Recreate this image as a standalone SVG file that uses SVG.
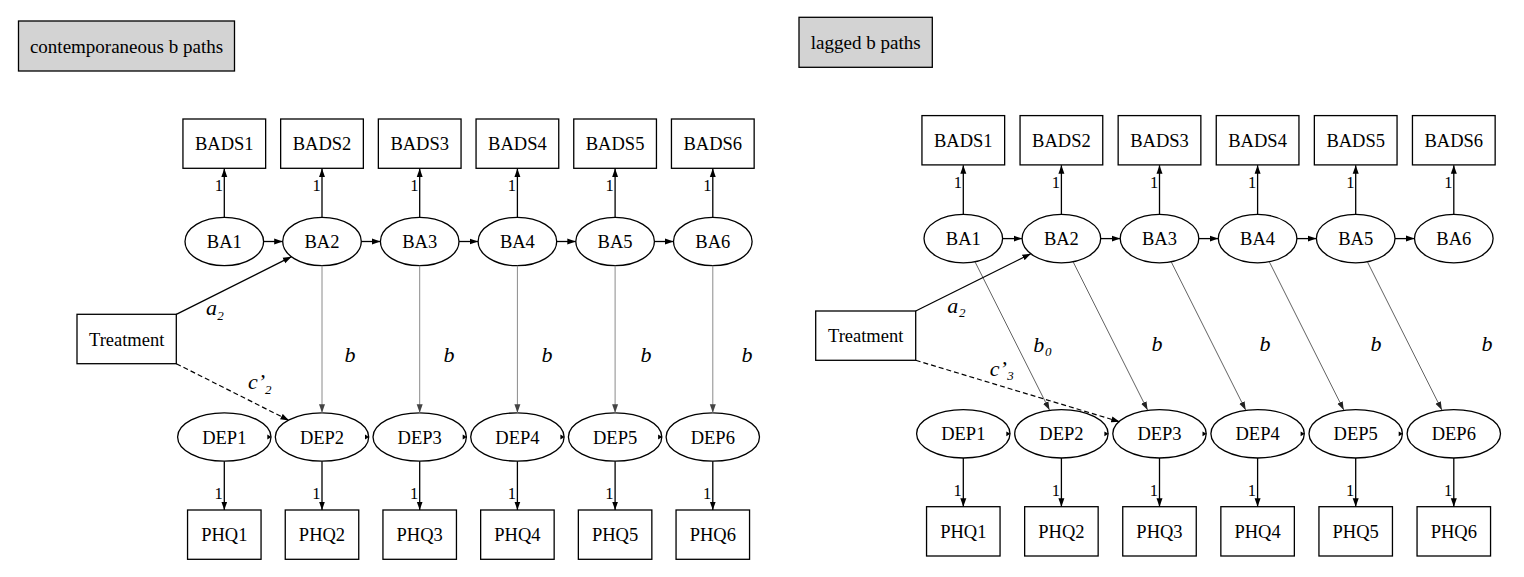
<svg xmlns="http://www.w3.org/2000/svg" width="1524" height="577" viewBox="0 0 1524 577" font-family="'Liberation Serif', 'Times New Roman', Times, serif">
<style>
text, tspan{font-family:'Liberation Serif', 'Times New Roman', Times, serif}
text{fill:#000}
.n{font-size:18.5px;text-anchor:middle}
.t{font-size:19px;text-anchor:middle}
.one{font-size:16.5px;text-anchor:end}
.it{font-size:22px;font-style:italic}
.sub{font-size:13px;font-style:italic}
.box{fill:#fff;stroke:#000;stroke-width:1.3}
.title{fill:#d3d3d3;stroke:#000;stroke-width:1.3}
.ell{fill:#fff;stroke:#000;stroke-width:1.3}
.e{fill:none;stroke:#000;stroke-width:1.3;marker-end:url(#ah)}
.d{fill:none;stroke:#000;stroke-width:1.2;stroke-dasharray:5,3;marker-end:url(#ah)}
.g{fill:none;stroke:#8a8a8a;stroke-width:1;marker-end:url(#ahg)}
.l{fill:none;stroke:#3a3a3a;stroke-width:0.8;marker-end:url(#ahl)}
.s{fill:#000}
</style>
<defs>
<marker id="ah" markerUnits="userSpaceOnUse" markerWidth="9" markerHeight="7" refX="8.5" refY="3" orient="auto" viewBox="0 0 9 6"><path d="M0,0 L8.5,3 L0,6 z" fill="#000"/></marker>
<marker id="ahg" markerUnits="userSpaceOnUse" markerWidth="9" markerHeight="7" refX="8.5" refY="3" orient="auto" viewBox="0 0 9 6"><path d="M0,0 L8.5,3 L0,6 z" fill="#444"/></marker>
<marker id="ahl" markerUnits="userSpaceOnUse" markerWidth="9" markerHeight="7" refX="8.5" refY="3" orient="auto" viewBox="0 0 9 6"><path d="M0,0 L8.5,3 L0,6 z" fill="#222"/></marker>
</defs>

<!-- LEFT PANEL -->
<g id="title-left"><rect class="title" x="18.5" y="21" width="216" height="50"/><text class="t" x="126.5" y="52.5">contemporaneous b paths</text></g>

<g id="L-BADS1"><rect class="box" x="182.95" y="119" width="82.7" height="49.3"/><text class="n" x="224.3" y="150.2">BADS1</text></g>
<g id="L-BADS2"><rect class="box" x="280.65" y="119" width="82.7" height="49.3"/><text class="n" x="322" y="150.2">BADS2</text></g>
<g id="L-BADS3"><rect class="box" x="378.35" y="119" width="82.7" height="49.3"/><text class="n" x="419.7" y="150.2">BADS3</text></g>
<g id="L-BADS4"><rect class="box" x="476.05" y="119" width="82.7" height="49.3"/><text class="n" x="517.4" y="150.2">BADS4</text></g>
<g id="L-BADS5"><rect class="box" x="573.75" y="119" width="82.7" height="49.3"/><text class="n" x="615.1" y="150.2">BADS5</text></g>
<g id="L-BADS6"><rect class="box" x="671.45" y="119" width="82.7" height="49.3"/><text class="n" x="712.8" y="150.2">BADS6</text></g>

<g id="L-BA1"><ellipse class="ell" cx="224.3" cy="241.5" rx="39.3" ry="24.2"/><text class="n" x="224.3" y="248">BA1</text></g>
<g id="L-BA2"><ellipse class="ell" cx="322" cy="241.5" rx="39.3" ry="24.2"/><text class="n" x="322" y="248">BA2</text></g>
<g id="L-BA3"><ellipse class="ell" cx="419.7" cy="241.5" rx="39.3" ry="24.2"/><text class="n" x="419.7" y="248">BA3</text></g>
<g id="L-BA4"><ellipse class="ell" cx="517.4" cy="241.5" rx="39.3" ry="24.2"/><text class="n" x="517.4" y="248">BA4</text></g>
<g id="L-BA5"><ellipse class="ell" cx="615.1" cy="241.5" rx="39.3" ry="24.2"/><text class="n" x="615.1" y="248">BA5</text></g>
<g id="L-BA6"><ellipse class="ell" cx="712.8" cy="241.5" rx="39.3" ry="24.2"/><text class="n" x="712.8" y="248">BA6</text></g>

<g id="L-Treatment"><rect class="box" x="77" y="314.3" width="99.3" height="49.4"/><text class="n" x="126.7" y="345.5">Treatment</text></g>

<g id="L-DEP1"><ellipse class="ell" cx="224.3" cy="437" rx="46.7" ry="24.2"/><text class="n" x="224.3" y="443.5">DEP1</text></g>
<g id="L-DEP2"><ellipse class="ell" cx="322" cy="437" rx="46.7" ry="24.2"/><text class="n" x="322" y="443.5">DEP2</text></g>
<g id="L-DEP3"><ellipse class="ell" cx="419.7" cy="437" rx="46.7" ry="24.2"/><text class="n" x="419.7" y="443.5">DEP3</text></g>
<g id="L-DEP4"><ellipse class="ell" cx="517.4" cy="437" rx="46.7" ry="24.2"/><text class="n" x="517.4" y="443.5">DEP4</text></g>
<g id="L-DEP5"><ellipse class="ell" cx="615.1" cy="437" rx="46.7" ry="24.2"/><text class="n" x="615.1" y="443.5">DEP5</text></g>
<g id="L-DEP6"><ellipse class="ell" cx="712.8" cy="437" rx="46.7" ry="24.2"/><text class="n" x="712.8" y="443.5">DEP6</text></g>

<g id="L-PHQ1"><rect class="box" x="187.55" y="510" width="73.5" height="49.3"/><text class="n" x="224.3" y="541.2">PHQ1</text></g>
<g id="L-PHQ2"><rect class="box" x="285.25" y="510" width="73.5" height="49.3"/><text class="n" x="322" y="541.2">PHQ2</text></g>
<g id="L-PHQ3"><rect class="box" x="382.95" y="510" width="73.5" height="49.3"/><text class="n" x="419.7" y="541.2">PHQ3</text></g>
<g id="L-PHQ4"><rect class="box" x="480.65" y="510" width="73.5" height="49.3"/><text class="n" x="517.4" y="541.2">PHQ4</text></g>
<g id="L-PHQ5"><rect class="box" x="578.35" y="510" width="73.5" height="49.3"/><text class="n" x="615.1" y="541.2">PHQ5</text></g>
<g id="L-PHQ6"><rect class="box" x="676.05" y="510" width="73.5" height="49.3"/><text class="n" x="712.8" y="541.2">PHQ6</text></g>

<g id="L-connectors">
<path class="e" d="M224.3 217.3V168.6"/><path class="e" d="M322 217.3V168.6"/><path class="e" d="M419.7 217.3V168.6"/><path class="e" d="M517.4 217.3V168.6"/><path class="e" d="M615.1 217.3V168.6"/><path class="e" d="M712.8 217.3V168.6"/>
<text class="one" x="223" y="191">1</text><text class="one" x="320.7" y="191">1</text><text class="one" x="418.4" y="191">1</text><text class="one" x="516.1" y="191">1</text><text class="one" x="613.8" y="191">1</text><text class="one" x="711.5" y="191">1</text>
<path class="e" d="M263.6 241.5H282.7"/><path class="e" d="M361.3 241.5H380.4"/><path class="e" d="M459 241.5H478.1"/><path class="e" d="M556.7 241.5H575.8"/><path class="e" d="M654.4 241.5H673.5"/>
<path class="g" d="M322 265.7V412.8"/><path class="g" d="M419.7 265.7V412.8"/><path class="g" d="M517.4 265.7V412.8"/><path class="g" d="M615.1 265.7V412.8"/><path class="g" d="M712.8 265.7V412.8"/>
<text class="it" x="350" y="362" text-anchor="middle">b</text><text class="it" x="449" y="362" text-anchor="middle">b</text><text class="it" x="547" y="362" text-anchor="middle">b</text><text class="it" x="646" y="362" text-anchor="middle">b</text><text class="it" x="747" y="362" text-anchor="middle">b</text>
<path class="e" d="M176.3 314.3L291.5 256.7"/>
<text><tspan class="it" x="206" y="315">a</tspan><tspan class="sub" x="217.3" y="320">2</tspan></text>
<path class="d" d="M176.3 363.7L289 420.4"/>
<text><tspan class="it" x="248" y="389">c’</tspan><tspan class="sub" x="265" y="393.5">2</tspan></text>
<polygon class="s" points="267.3,434.6 271.5,437 267.3,439.4"/><polygon class="s" points="365,434.6 369.2,437 365,439.4"/><polygon class="s" points="462.7,434.6 466.9,437 462.7,439.4"/><polygon class="s" points="560.4,434.6 564.6,437 560.4,439.4"/><polygon class="s" points="658.1,434.6 662.3,437 658.1,439.4"/>
<path class="e" d="M224.3 461.2V510"/><path class="e" d="M322 461.2V510"/><path class="e" d="M419.7 461.2V510"/><path class="e" d="M517.4 461.2V510"/><path class="e" d="M615.1 461.2V510"/><path class="e" d="M712.8 461.2V510"/>
<text class="one" x="222.8" y="499">1</text><text class="one" x="320.5" y="499">1</text><text class="one" x="418.2" y="499">1</text><text class="one" x="515.9" y="499">1</text><text class="one" x="613.6" y="499">1</text><text class="one" x="711.3" y="499">1</text>
</g>

<!-- RIGHT PANEL -->
<g id="title-right"><rect class="title" x="799" y="17.3" width="133.3" height="50"/><text class="t" x="865.7" y="48.8">lagged b paths</text></g>

<g id="R-BADS1"><rect class="box" x="921.95" y="115.6" width="82.7" height="49.3"/><text class="n" x="963.3" y="146.8">BADS1</text></g>
<g id="R-BADS2"><rect class="box" x="1020.05" y="115.6" width="82.7" height="49.3"/><text class="n" x="1061.4" y="146.8">BADS2</text></g>
<g id="R-BADS3"><rect class="box" x="1118.15" y="115.6" width="82.7" height="49.3"/><text class="n" x="1159.5" y="146.8">BADS3</text></g>
<g id="R-BADS4"><rect class="box" x="1216.25" y="115.6" width="82.7" height="49.3"/><text class="n" x="1257.6" y="146.8">BADS4</text></g>
<g id="R-BADS5"><rect class="box" x="1314.35" y="115.6" width="82.7" height="49.3"/><text class="n" x="1355.7" y="146.8">BADS5</text></g>
<g id="R-BADS6"><rect class="box" x="1412.45" y="115.6" width="82.7" height="49.3"/><text class="n" x="1453.8" y="146.8">BADS6</text></g>

<g id="R-BA1"><ellipse class="ell" cx="963.3" cy="238.6" rx="39.3" ry="24.2"/><text class="n" x="963.3" y="245.1">BA1</text></g>
<g id="R-BA2"><ellipse class="ell" cx="1061.4" cy="238.6" rx="39.3" ry="24.2"/><text class="n" x="1061.4" y="245.1">BA2</text></g>
<g id="R-BA3"><ellipse class="ell" cx="1159.5" cy="238.6" rx="39.3" ry="24.2"/><text class="n" x="1159.5" y="245.1">BA3</text></g>
<g id="R-BA4"><ellipse class="ell" cx="1257.6" cy="238.6" rx="39.3" ry="24.2"/><text class="n" x="1257.6" y="245.1">BA4</text></g>
<g id="R-BA5"><ellipse class="ell" cx="1355.7" cy="238.6" rx="39.3" ry="24.2"/><text class="n" x="1355.7" y="245.1">BA5</text></g>
<g id="R-BA6"><ellipse class="ell" cx="1453.8" cy="238.6" rx="39.3" ry="24.2"/><text class="n" x="1453.8" y="245.1">BA6</text></g>

<g id="R-Treatment"><rect class="box" x="815.7" y="311" width="100" height="49.3"/><text class="n" x="865.7" y="342.2">Treatment</text></g>

<g id="R-DEP1"><ellipse class="ell" cx="963.3" cy="433.8" rx="46.7" ry="24.2"/><text class="n" x="963.3" y="440.3">DEP1</text></g>
<g id="R-DEP2"><ellipse class="ell" cx="1061.4" cy="433.8" rx="46.7" ry="24.2"/><text class="n" x="1061.4" y="440.3">DEP2</text></g>
<g id="R-DEP3"><ellipse class="ell" cx="1159.5" cy="433.8" rx="46.7" ry="24.2"/><text class="n" x="1159.5" y="440.3">DEP3</text></g>
<g id="R-DEP4"><ellipse class="ell" cx="1257.6" cy="433.8" rx="46.7" ry="24.2"/><text class="n" x="1257.6" y="440.3">DEP4</text></g>
<g id="R-DEP5"><ellipse class="ell" cx="1355.7" cy="433.8" rx="46.7" ry="24.2"/><text class="n" x="1355.7" y="440.3">DEP5</text></g>
<g id="R-DEP6"><ellipse class="ell" cx="1453.8" cy="433.8" rx="46.7" ry="24.2"/><text class="n" x="1453.8" y="440.3">DEP6</text></g>

<g id="R-PHQ1"><rect class="box" x="926.55" y="506.7" width="73.5" height="49.3"/><text class="n" x="963.3" y="538">PHQ1</text></g>
<g id="R-PHQ2"><rect class="box" x="1024.65" y="506.7" width="73.5" height="49.3"/><text class="n" x="1061.4" y="538">PHQ2</text></g>
<g id="R-PHQ3"><rect class="box" x="1122.75" y="506.7" width="73.5" height="49.3"/><text class="n" x="1159.5" y="538">PHQ3</text></g>
<g id="R-PHQ4"><rect class="box" x="1220.85" y="506.7" width="73.5" height="49.3"/><text class="n" x="1257.6" y="538">PHQ4</text></g>
<g id="R-PHQ5"><rect class="box" x="1318.95" y="506.7" width="73.5" height="49.3"/><text class="n" x="1355.7" y="538">PHQ5</text></g>
<g id="R-PHQ6"><rect class="box" x="1417.05" y="506.7" width="73.5" height="49.3"/><text class="n" x="1453.8" y="538">PHQ6</text></g>

<g id="R-connectors">
<path class="e" d="M963.3 214.4V165.2"/><path class="e" d="M1061.4 214.4V165.2"/><path class="e" d="M1159.5 214.4V165.2"/><path class="e" d="M1257.6 214.4V165.2"/><path class="e" d="M1355.7 214.4V165.2"/><path class="e" d="M1453.8 214.4V165.2"/>
<text class="one" x="962" y="187.7">1</text><text class="one" x="1060.1" y="187.7">1</text><text class="one" x="1158.2" y="187.7">1</text><text class="one" x="1256.3" y="187.7">1</text><text class="one" x="1354.4" y="187.7">1</text><text class="one" x="1452.5" y="187.7">1</text>
<path class="e" d="M1002.6 238.6H1022.1"/><path class="e" d="M1100.7 238.6H1120.2"/><path class="e" d="M1198.8 238.6H1218.3"/><path class="e" d="M1296.9 238.6H1316.4"/><path class="e" d="M1395 238.6H1414.5"/>
<path class="l" d="M975 261.8L1049.5 410.1"/><path class="l" d="M1073.1 261.8L1147.6 410.1"/><path class="l" d="M1171.2 261.8L1245.7 410.1"/><path class="l" d="M1269.3 261.8L1343.8 410.1"/><path class="l" d="M1367.4 261.8L1441.9 410.1"/>
<text><tspan class="it" x="1033.3" y="351.5">b</tspan><tspan class="sub" x="1045" y="355.5">0</tspan></text>
<text class="it" x="1157" y="350.5" text-anchor="middle">b</text><text class="it" x="1265" y="350.5" text-anchor="middle">b</text><text class="it" x="1376" y="350.5" text-anchor="middle">b</text><text class="it" x="1487" y="350.5" text-anchor="middle">b</text>
<path class="e" d="M915.7 311L1030.9 253.7"/>
<text><tspan class="it" x="947.3" y="312.7">a</tspan><tspan class="sub" x="959" y="317">2</tspan></text>
<path class="d" d="M915.7 360.3L1119.7 421.8"/>
<text><tspan class="it" x="989.7" y="376">c’</tspan><tspan class="sub" x="1007.3" y="380">3</tspan></text>
<polygon class="s" points="1006.3,431.4 1010.5,433.8 1006.3,436.2"/><polygon class="s" points="1104.4,431.4 1108.6,433.8 1104.4,436.2"/><polygon class="s" points="1202.5,431.4 1206.7,433.8 1202.5,436.2"/><polygon class="s" points="1300.6,431.4 1304.8,433.8 1300.6,436.2"/><polygon class="s" points="1398.7,431.4 1402.9,433.8 1398.7,436.2"/>
<path class="e" d="M963.3 458V506.7"/><path class="e" d="M1061.4 458V506.7"/><path class="e" d="M1159.5 458V506.7"/><path class="e" d="M1257.6 458V506.7"/><path class="e" d="M1355.7 458V506.7"/><path class="e" d="M1453.8 458V506.7"/>
<text class="one" x="961.8" y="495.7">1</text><text class="one" x="1059.9" y="495.7">1</text><text class="one" x="1158" y="495.7">1</text><text class="one" x="1256.1" y="495.7">1</text><text class="one" x="1354.2" y="495.7">1</text><text class="one" x="1452.3" y="495.7">1</text>
</g>
</svg>
